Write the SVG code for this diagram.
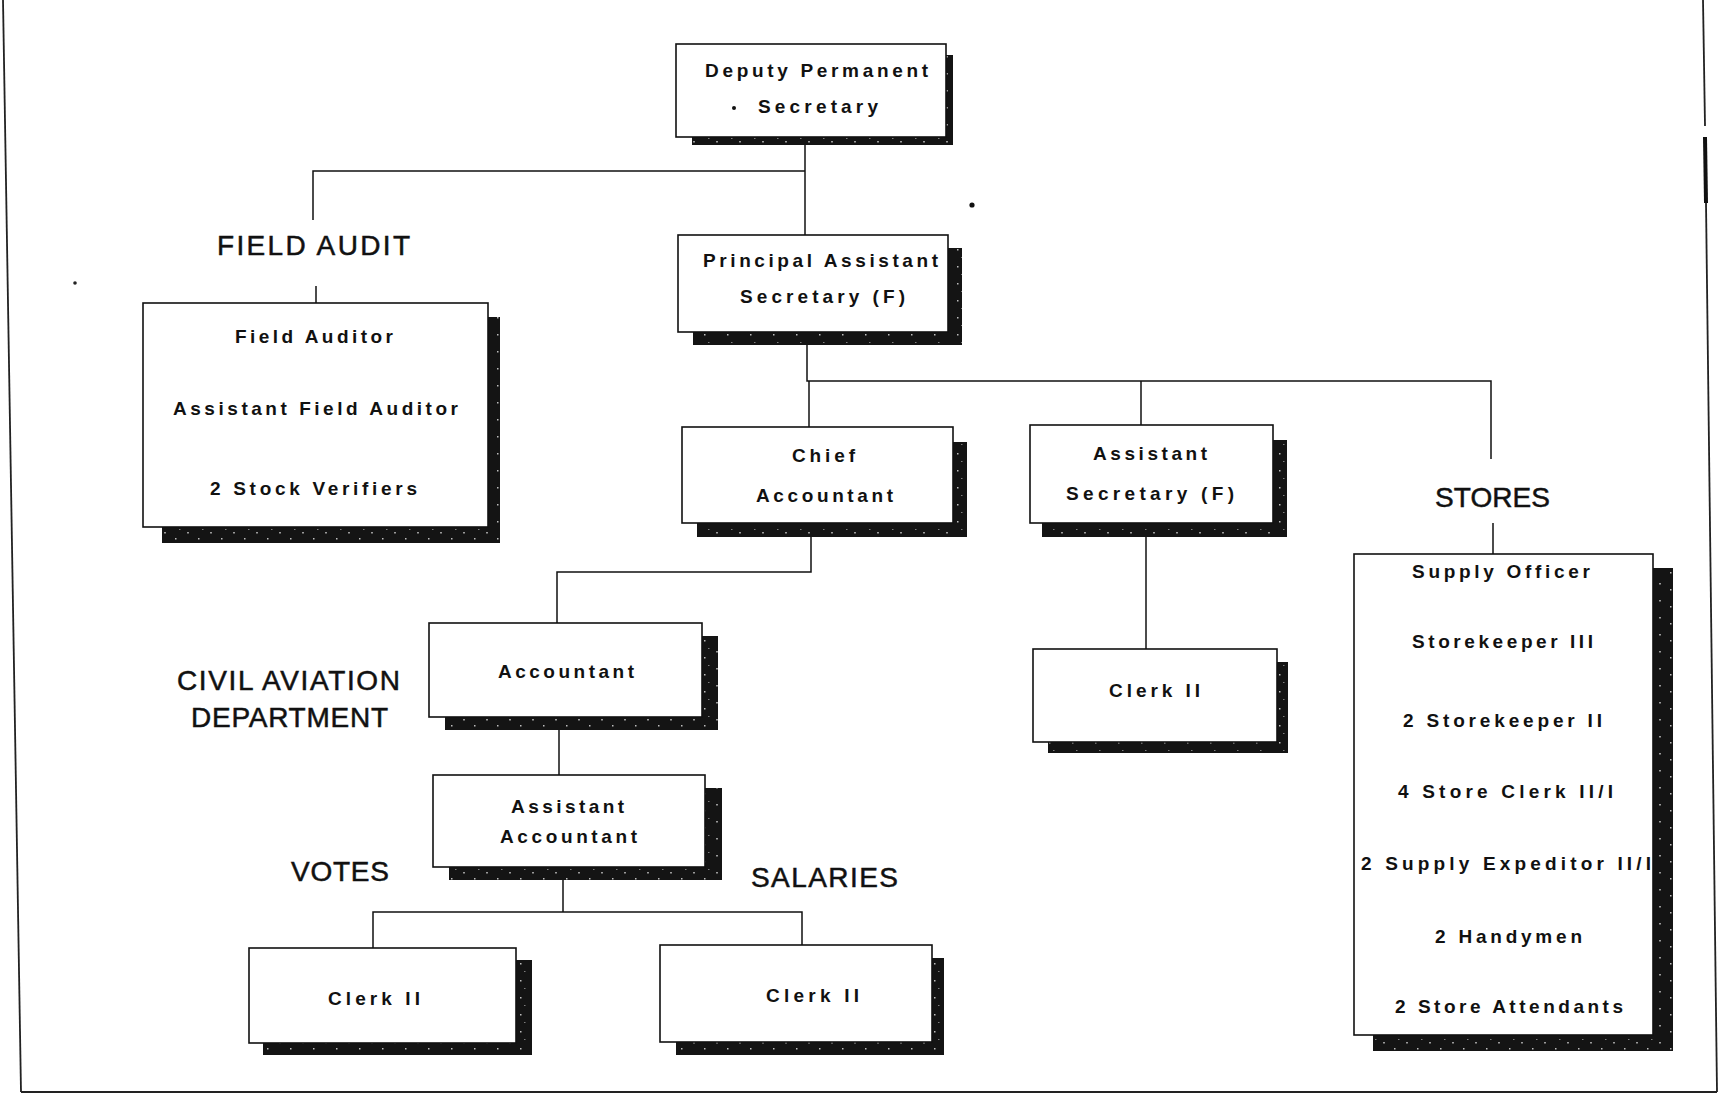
<svg xmlns="http://www.w3.org/2000/svg" width="1720" height="1095" viewBox="0 0 1720 1095">
  <defs>
    <!-- speckled dark fill used for the drop shadows under each box -->
    <pattern id="speck" width="23" height="17" patternUnits="userSpaceOnUse">
      <rect width="23" height="17" fill="#141414"/>
      <rect x="3" y="5" width="2" height="1.5" fill="#9a9a9a"/>
      <rect x="14" y="11" width="1.5" height="1.5" fill="#bdbdbd"/>
      <rect x="18" y="2" width="1.5" height="1" fill="#7d7d7d"/>
    </pattern>
    <style>
      .shadow { fill: url(#speck); }
      .box { fill: #ffffff; stroke: #111; stroke-width: 1.6; }
      .t { font-family: "Liberation Sans", Arial, sans-serif; font-weight: bold; font-size: 19px; fill: #111; }
      .lbl { font-family: "Liberation Sans", Arial, sans-serif; font-size: 28px; fill: #111; stroke: #111; stroke-width: 0.5; }
      .wire { fill: none; stroke: #111; stroke-width: 1.5; }
      .frame { fill: none; stroke: #222; stroke-width: 1.8; }
    </style>
  </defs>

  <rect width="1720" height="1095" fill="#ffffff"/>

  <!-- page frame -->
  <g id="frame">
    <line class="frame" x1="3" y1="0" x2="21" y2="1092"/>
    <line class="frame" x1="1703" y1="0" x2="1705" y2="126"/>
    <line x1="1705" y1="137" x2="1706" y2="203" stroke="#111" stroke-width="4"/>
    <line class="frame" x1="1706" y1="203" x2="1717" y2="1092"/>
    <line class="frame" x1="21" y1="1092" x2="1717" y2="1092"/>
    <circle cx="75" cy="283" r="1.8" fill="#222"/>
    <circle cx="972" cy="205" r="2.6" fill="#111"/>
  </g>

  <!-- connectors -->
  <g id="connectors">
    <path class="wire" d="M805 138 V235"/>
    <path class="wire" d="M313 220 V171 H805"/>
    <path class="wire" d="M316 286 V303"/>
    <path class="wire" d="M807 345 V381 H1491 V459"/>
    <path class="wire" d="M809 381 V427"/>
    <path class="wire" d="M1141 381 V425"/>
    <path class="wire" d="M1493 523 V554"/>
    <path class="wire" d="M811 537 V572 H557 V623"/>
    <path class="wire" d="M559 730 V775"/>
    <path class="wire" d="M563 880 V912"/>
    <path class="wire" d="M373 948 V912 H802 V945"/>
    <path class="wire" d="M1146 537 V649"/>
  </g>

  <!-- free-standing section labels -->
  <g id="labels">
    <text class="lbl" x="217" y="255" textLength="193" lengthAdjust="spacing">FIELD AUDIT</text>
    <text class="lbl" x="1435" y="507" textLength="115" lengthAdjust="spacing">STORES</text>
    <text class="lbl" x="177" y="690" textLength="223" lengthAdjust="spacing">CIVIL AVIATION</text>
    <text class="lbl" x="191" y="727" textLength="197" lengthAdjust="spacing">DEPARTMENT</text>
    <text class="lbl" x="291" y="881" textLength="98" lengthAdjust="spacing">VOTES</text>
    <text class="lbl" x="751" y="887" textLength="147" lengthAdjust="spacing">SALARIES</text>
  </g>

  <g id="deputy-permanent-secretary">
    <rect class="shadow" x="692" y="55" width="261" height="90"/>
    <rect class="box" x="676" y="44" width="270" height="93"/>
    <text class="t" x="705" y="77" textLength="223" lengthAdjust="spacing">Deputy Permanent</text>
    <circle cx="734" cy="108" r="2" fill="#111"/>
    <text class="t" x="758" y="113" textLength="120" lengthAdjust="spacing">Secretary</text>
  </g>

  <g id="field-audit">
    <rect class="shadow" x="162" y="317" width="338" height="226"/>
    <rect class="box" x="143" y="303" width="345" height="224"/>
    <text class="t" x="235" y="343" textLength="158" lengthAdjust="spacing">Field Auditor</text>
    <text class="t" x="173" y="415" textLength="285" lengthAdjust="spacing">Assistant Field Auditor</text>
    <text class="t" x="210" y="495" textLength="207" lengthAdjust="spacing">2 Stock Verifiers</text>
  </g>

  <g id="principal-assistant-secretary">
    <rect class="shadow" x="693" y="248" width="269" height="97"/>
    <rect class="box" x="678" y="235" width="270" height="97"/>
    <text class="t" x="703" y="267" textLength="235" lengthAdjust="spacing">Principal Assistant</text>
    <text class="t" x="740" y="303" textLength="165" lengthAdjust="spacing">Secretary (F)</text>
  </g>

  <g id="chief-accountant">
    <rect class="shadow" x="697" y="442" width="270" height="95"/>
    <rect class="box" x="682" y="427" width="271" height="96"/>
    <text class="t" x="792" y="462" textLength="63" lengthAdjust="spacing">Chief</text>
    <text class="t" x="756" y="502" textLength="137" lengthAdjust="spacing">Accountant</text>
  </g>

  <g id="assistant-secretary">
    <rect class="shadow" x="1042" y="440" width="245" height="97"/>
    <rect class="box" x="1030" y="425" width="243" height="98"/>
    <text class="t" x="1093" y="460" textLength="114" lengthAdjust="spacing">Assistant</text>
    <text class="t" x="1066" y="500" textLength="168" lengthAdjust="spacing">Secretary (F)</text>
  </g>

  <g id="stores">
    <rect class="shadow" x="1373" y="568" width="300" height="483"/>
    <rect class="box" x="1354" y="554" width="299" height="481"/>
    <text class="t" x="1412" y="578" textLength="178" lengthAdjust="spacing">Supply Officer</text>
    <text class="t" x="1412" y="648" textLength="181" lengthAdjust="spacing">Storekeeper III</text>
    <text class="t" x="1403" y="727" textLength="199" lengthAdjust="spacing">2 Storekeeper II</text>
    <text class="t" x="1398" y="798" textLength="215" lengthAdjust="spacing">4 Store Clerk II/I</text>
    <text class="t" x="1361" y="870" textLength="290" lengthAdjust="spacing">2 Supply Expeditor II/I</text>
    <text class="t" x="1435" y="943" textLength="147" lengthAdjust="spacing">2 Handymen</text>
    <text class="t" x="1395" y="1013" textLength="228" lengthAdjust="spacing">2 Store Attendants</text>
  </g>

  <g id="clerk-secretariat">
    <rect class="shadow" x="1048" y="662" width="240" height="91"/>
    <rect class="box" x="1033" y="649" width="244" height="93"/>
    <text class="t" x="1109" y="697" textLength="91" lengthAdjust="spacing">Clerk II</text>
  </g>

  <g id="accountant">
    <rect class="shadow" x="445" y="636" width="273" height="94"/>
    <rect class="box" x="429" y="623" width="273" height="94"/>
    <text class="t" x="498" y="678" textLength="136" lengthAdjust="spacing">Accountant</text>
  </g>

  <g id="assistant-accountant">
    <rect class="shadow" x="449" y="788" width="273" height="92"/>
    <rect class="box" x="433" y="775" width="272" height="92"/>
    <text class="t" x="511" y="813" textLength="113" lengthAdjust="spacing">Assistant</text>
    <text class="t" x="500" y="843" textLength="137" lengthAdjust="spacing">Accountant</text>
  </g>

  <g id="clerk-votes">
    <rect class="shadow" x="263" y="960" width="269" height="95"/>
    <rect class="box" x="249" y="948" width="267" height="95"/>
    <text class="t" x="328" y="1005" textLength="92" lengthAdjust="spacing">Clerk II</text>
  </g>

  <g id="clerk-salaries">
    <rect class="shadow" x="676" y="958" width="268" height="97"/>
    <rect class="box" x="660" y="945" width="272" height="97"/>
    <text class="t" x="766" y="1002" textLength="93" lengthAdjust="spacing">Clerk II</text>
  </g>
</svg>
